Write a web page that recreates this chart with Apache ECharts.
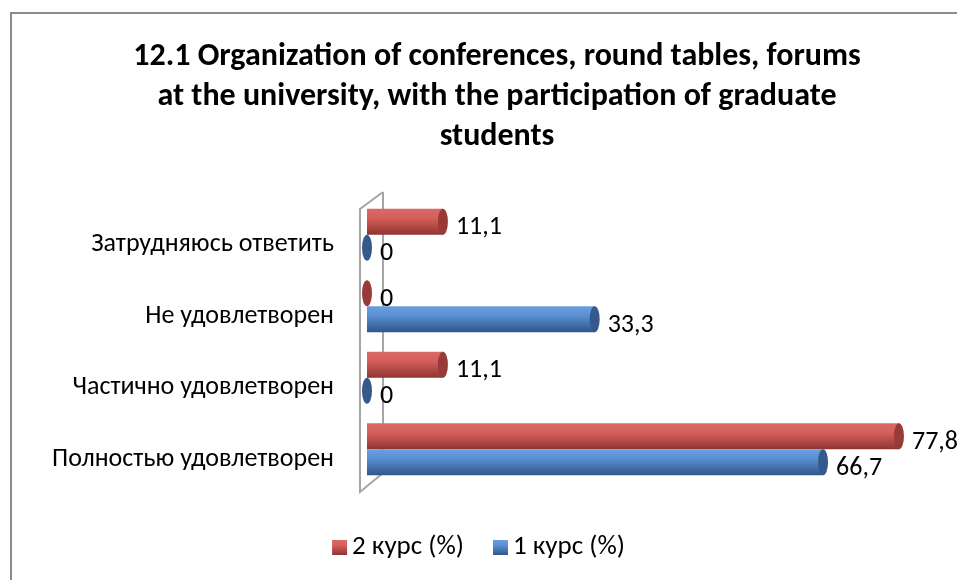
<!DOCTYPE html>
<html><head><meta charset="utf-8">
<script src="https://cdn.jsdelivr.net/npm/echarts@6/dist/echarts.min.js"></script>
<style>html,body{margin:0;padding:0;background:#fff}#c{width:957px;height:580px}</style>
</head><body><div id="c"></div>
<script>
const titleText = '12.1 Organization of conferences, round tables, forums\nat the university, with the participation of graduate\nstudents';
const categories = ['Полностью удовлетворен', 'Частично удовлетворен', 'Не удовлетворен', 'Затрудняюсь ответить'];
const seriesNames = ['2 курс (%)', '1 курс (%)'];
const course2 = [77.8, 11.1, 0, 11.1];
const course1 = [66.7, 0, 33.3, 0];

const FONT = 'Carlito, "Open Sans", sans-serif';
const chart = echarts.init(document.getElementById('c'));
const grad = (a, b, c) => new echarts.graphic.LinearGradient(0, 0, 0, 1, [
  {offset: 0, color: a}, {offset: 0.35, color: b}, {offset: 1, color: c}]);
const redFill = grad('#d96a66', '#d65f5b', '#8f3431');
const blueFill = grad('#6a9ee0', '#5a90d4', '#2f578a');
const fmt = p => String(p.value).replace('.', ',');
const BW = 26;

function barSeries(name, data, fill) {
  return {
    name, type: 'bar', data, barWidth: BW, barGap: '0%',
    itemStyle: {color: fill},
    label: {show: true, position: 'right', distance: 13, offset: [0, 6],
      formatter: fmt, fontFamily: FONT, fontSize: 26, color: '#000'},
    z: 2
  };
}
function capSeries(name, data, color) {
  return {
    name, type: 'pictorialBar', data, symbol: 'circle', symbolSize: [10, BW],
    symbolPosition: 'end', symbolOffset: ['50%', 0], barWidth: BW, barGap: '0%',
    itemStyle: {color}, z: 3, silent: true, legendHoverLink: false
  };
}

chart.setOption({
  backgroundColor: '#fff',
  animation: false,
  title: {
    text: titleText, left: 492, top: 32, textAlign: 'center',
    textStyle: {fontFamily: FONT, fontWeight: 'bold', fontSize: 32, lineHeight: 40, color: '#000'}
  },
  legend: {
    data: seriesNames, bottom: 14, left: 'center', icon: 'rect',
    itemWidth: 15, itemHeight: 15, itemGap: 29,
    textStyle: {fontFamily: FONT, fontSize: 27, color: '#000'}
  },
  grid: {left: 367, right: 43, top: 199, bottom: 95},
  xAxis: {type: 'value', min: 0, max: 80, show: false},
  yAxis: {
    type: 'category', data: categories,
    axisLine: {show: false}, axisTick: {show: false},
    axisLabel: {fontFamily: FONT, fontSize: 26, color: '#000', margin: 33, verticalAlign: 'top', lineHeight: 20}
  },
  graphic: [
    {type: 'rect', shape: {x: 11, y: 13, width: 960, height: 580}, style: {fill: 'none', stroke: '#8c8c8c', lineWidth: 2}, z: 0},
    {type: 'polyline', shape: {points: [[383, 192], [360, 209], [360, 492], [383, 473], [383, 192]]},
      style: {fill: 'none', stroke: '#a6a6a6', lineWidth: 2}, z: 0}
  ],
  series: [
    barSeries(seriesNames[0], course2, redFill),
    barSeries(seriesNames[1], course1, blueFill),
    capSeries(seriesNames[0], course2, '#983a37'),
    capSeries(seriesNames[1], course1, '#35598b')
  ]
});
</script></body></html>
